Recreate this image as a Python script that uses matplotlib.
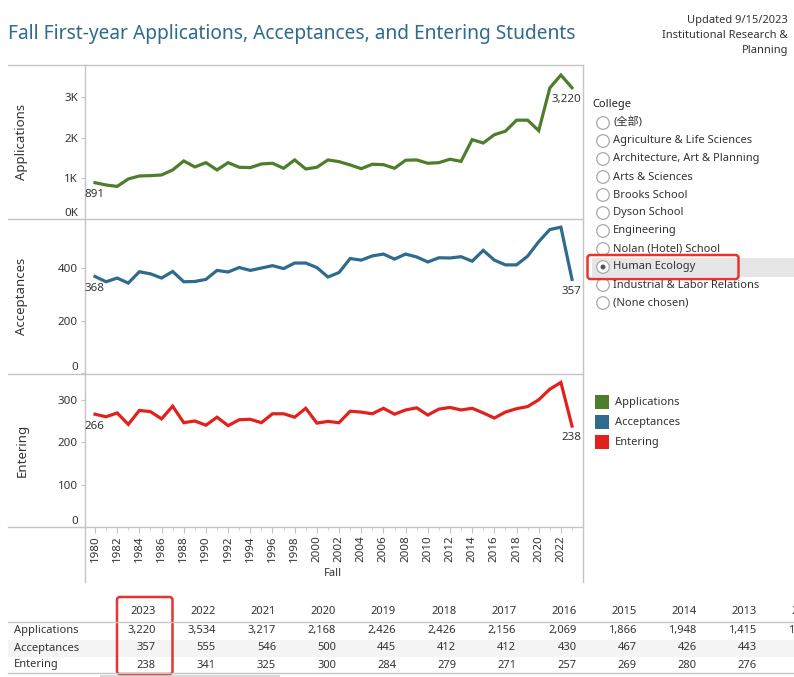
import numpy as np
import matplotlib.pyplot as plt
from matplotlib.patches import Rectangle, FancyBboxPatch, Circle

plt.rcParams['font.family'] = ['Noto Sans', 'Noto Sans CJK SC', 'DejaVu Sans']

# data (1980-2023)
years = list(range(1980, 2024))
applications = [891, 835, 800, 983, 1056, 1064, 1081, 1204, 1425, 1278,
                1383, 1204, 1383, 1270, 1261, 1351, 1368, 1245, 1450, 1228,
                1270, 1450, 1408, 1327, 1236, 1344, 1334, 1245, 1442, 1450,
                1368, 1383, 1467, 1415, 1948, 1866, 2069, 2156, 2426, 2426,
                2168, 3217, 3534, 3220]
acceptances = [368, 348, 362, 343, 386, 378, 362, 387, 348, 349,
               357, 391, 385, 402, 391, 400, 409, 398, 419, 419,
               402, 366, 383, 436, 430, 446, 453, 434, 453, 442,
               423, 439, 438, 443, 426, 467, 430, 412, 412, 445,
               500, 546, 555, 357]
entering = [266, 260, 269, 242, 275, 272, 255, 285, 246, 250,
            240, 259, 239, 253, 254, 246, 267, 267, 259, 280,
            245, 249, 246, 273, 271, 267, 280, 266, 276, 281,
            264, 278, 282, 276, 280, 269, 257, 271, 279, 284,
            300, 325, 341, 238]

colleges = ["(全部)", "Agriculture & Life Sciences", "Architecture, Art & Planning",
            "Arts & Sciences", "Brooks School", "Dyson School", "Engineering",
            "Nolan (Hotel) School", "Human Ecology", "Industrial & Labor Relations",
            "(None chosen)"]
selected = "Human Ecology"

table_years = list(range(2023, 2011, -1))

GREEN = '#4e7d2b'
BLUE = '#2e6b8c'
RED = '#e2211c'
LINE = '#c4c4c4'
TXT = '#333333'

W, H = 794, 677
fig = plt.figure(figsize=(W / 100, H / 100), dpi=100)


def fbox(l, t, r, b):
    return [l / W, 1 - b / H, (r - l) / W, (b - t) / H]


# overlay in pixel coordinates for frames, widgets and table
ov = fig.add_axes([0, 0, 1, 1])
ov.set_xlim(0, W)
ov.set_ylim(H, 0)
ov.axis('off')

ov.text(8, 34, "Fall First-year Applications, Acceptances, and Entering Students",
        fontsize=13.8, color=BLUE, va='center', ha='left')
for i, s in enumerate(["Updated 9/15/2023", "Institutional Research &", "Planning"]):
    ov.text(788, 20 + i * 15, s, fontsize=8, color=TXT, ha='right', va='center')

# panel frame lines
for y in [65, 219, 373.5, 527]:
    ov.plot([8, 583], [y, y], color=LINE, lw=1)
ov.plot([85, 85], [65, 582], color=LINE, lw=1)
ov.plot([583, 583], [65, 582], color=LINE, lw=1)

panels = [
    ("Applications", applications, GREEN, 65, 219, 3780, [0, 1000, 2000, 3000],
     ["0K", "1K", "2K", "3K"], "{:,}"),
    ("Acceptances", acceptances, BLUE, 219, 373.5, 586, [0, 200, 400],
     ["0", "200", "400"], "{}"),
    ("Entering", entering, RED, 373.5, 527, 362, [0, 100, 200, 300],
     ["0", "100", "200", "300"], "{}"),
]

x0 = 1980 - 10 / 11.093
x1 = 2023 + 11 / 11.093
axes = []
for name, vals, col, top, bot, ymax, ticks, tlabels, fmt in panels:
    ax = fig.add_axes(fbox(85, top, 583, bot))
    ax.set_facecolor('none')
    ax.plot(years, vals, color=col, lw=2.3, solid_joinstyle='miter')
    ax.set_xlim(x0, x1)
    ax.set_ylim(0, ymax)
    ax.set_yticks(ticks)
    ax.set_yticklabels(tlabels)
    ax.get_yticklabels()[0].set_va('bottom')
    for s in ax.spines.values():
        s.set_visible(False)
    ax.tick_params(axis='y', direction='out', length=3, color=LINE,
                   labelsize=8.3, labelcolor=TXT, pad=2)
    ax.tick_params(axis='x', bottom=False, labelbottom=False)
    ax.annotate(fmt.format(vals[0]), (years[0], vals[0]), xytext=(-0.7, -8.5),
                textcoords='offset points', ha='center', va='center',
                fontsize=8.3, color=TXT)
    dx = -4.3 if name == "Applications" else -0.5
    ax.annotate(fmt.format(vals[-1]), (years[-1], vals[-1]), xytext=(dx, -8.5),
                textcoords='offset points', ha='center', va='center',
                fontsize=8.3, color=TXT)
    ov.text(22, (top + bot) / 2, name, rotation=90, fontsize=9.5, color=TXT,
            ha='center', va='center')
    axes.append(ax)

axb = axes[-1]
axb.tick_params(axis='x', bottom=True, labelbottom=True, direction='out',
                length=4, color=LINE, labelsize=8.3, labelcolor=TXT,
                labelrotation=90, pad=2)
axb.set_xticks(list(range(1980, 2023, 2)))
axb.set_xticks(years, minor=True)
axb.tick_params(axis='x', which='minor', length=2, color=LINE)
ov.text(333, 573, "Fall", fontsize=8, color=TXT, ha='center', va='center')

# college selector
ov.text(592, 105, "College", fontsize=8, color='#222222', fontweight='bold',
        ha='left', va='center')
for i, c in enumerate(colleges):
    y = 123 + i * 18
    if c == selected:
        ov.add_patch(Rectangle((592, y - 9.5), 202, 19, color='#e6e6e6', lw=0))
    ov.add_patch(Circle((603, y), 6.3, facecolor='white', edgecolor='#a8a8a8', lw=0.9))
    if c == selected:
        ov.add_patch(Circle((603, y), 2.5, color='#555555', lw=0))
    ov.text(613, y, c, fontsize=8, color=TXT, ha='left', va='center')
ov.add_patch(FancyBboxPatch((587.5, 255), 151, 24, boxstyle='round,pad=0,rounding_size=3',
                            facecolor='none', edgecolor='#e8342c', lw=1.8))

# legend
for i, (lab, col) in enumerate([("Applications", GREEN), ("Acceptances", BLUE),
                                ("Entering", RED)]):
    y = 402 + i * 20
    ov.add_patch(Rectangle((595, y - 7), 14, 14, color=col, lw=0))
    ov.text(615, y, lab, fontsize=8, color=TXT, ha='left', va='center')

# table (last column is cut off by the view, as in the dashboard)
ov.add_patch(Rectangle((8, 640), 786, 16.5, color='#f4f4f4', lw=0))
ov.plot([8, 794], [622, 622], color=LINE, lw=1)
ov.plot([8, 794], [673, 673], color=LINE, lw=1)
ov.add_patch(Rectangle((100, 674.5), 180, 3, color='#d9d9d9', lw=0))
rows = [("Applications", applications, "{:,}"), ("Acceptances", acceptances, "{}"),
        ("Entering", entering, "{}")]
for j, (lab, vals, fmt) in enumerate(rows):
    ov.text(14, 631 + j * 17, lab, fontsize=8, color=TXT, ha='left', va='center')
for k, yr in enumerate(table_years):
    xr = 155.7 + 60.1 * k
    ov.text(xr, 611, str(yr), fontsize=8, color=TXT, ha='right', va='center')
    for j, (lab, vals, fmt) in enumerate(rows):
        ov.text(xr, 631 + j * 17, fmt.format(vals[years.index(yr)]), fontsize=8,
                color=TXT, ha='right', va='center')
ov.add_patch(FancyBboxPatch((117, 597), 55.5, 77, boxstyle='round,pad=0,rounding_size=3',
                            facecolor='none', edgecolor='#e8342c', lw=1.8))

fig.savefig("out.png", dpi=100)
